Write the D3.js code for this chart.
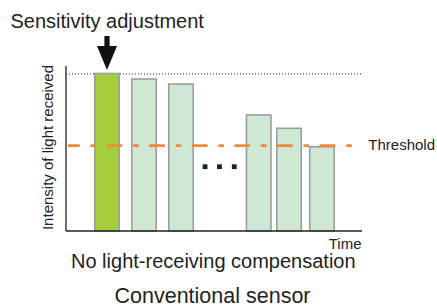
<!DOCTYPE html>
<html><head><meta charset="utf-8">
<script src="https://cdn.jsdelivr.net/npm/d3@7"></script>
<style>body{margin:0;background:#fff}svg{display:block}text{font-family:"Liberation Sans",Arial,sans-serif;fill:#222}</style>
</head><body><div id="chart"></div>
<script>
const timeSlots = [1, 2, 3, 5.1, 5.92, 6.81];
const intensities = [100, 96.5, 93.3, 73.7, 65.2, 53.5];
const barKinds = ["adjusted", "normal", "normal", "normal", "normal", "normal"];
const ellipsisSlots = [3.65, 4.04, 4.44];
const thresholdValue = 54.2;
const maxValue = 100;
const titleText = "Sensitivity adjustment";
const yLabelText = "Intensity of light received";
const xLabelText = "Time";
const thresholdLabel = "Threshold";
const captionText = "No light-receiving compensation";
const subtitleText = "Conventional sensor";

const W = 437, H = 307;
const svg = d3.select("#chart").append("svg").attr("width", W).attr("height", H);

const x = d3.scaleLinear().domain([0, 1]).range([70, 107]);
const y = d3.scaleLinear().domain([0, maxValue]).range([231, 73.5]);
const barW = 24.5;
const xEnd = 362, xStart = 66;

// dotted max line
svg.append("line").attr("x1", xStart).attr("x2", xEnd)
  .attr("y1", y(maxValue) + 0.5).attr("y2", y(maxValue) + 0.5)
  .attr("stroke", "#222").attr("stroke-width", 1).attr("stroke-dasharray", "1,2");

// bars
svg.selectAll("rect.bar").data(timeSlots).enter().append("rect")
  .attr("class", "bar")
  .attr("x", (d) => x(d) - barW / 2)
  .attr("y", (d, i) => y(intensities[i]))
  .attr("width", barW)
  .attr("height", (d, i) => y(0) - y(intensities[i]))
  .attr("fill", (d, i) => barKinds[i] === "adjusted" ? "#a5cd3d" : "#cfe7d5")
  .attr("stroke", "#9a9e9c").attr("stroke-width", 1.6);

// axes
svg.append("line").attr("x1", xStart).attr("x2", xStart).attr("y1", 66).attr("y2", y(0))
  .attr("stroke", "#222").attr("stroke-width", 1.3);
svg.append("line").attr("x1", xStart).attr("x2", xEnd).attr("y1", y(0)).attr("y2", y(0))
  .attr("stroke", "#222").attr("stroke-width", 1.3);

// threshold line
svg.append("line").attr("x1", 68).attr("x2", 356)
  .attr("y1", y(thresholdValue)).attr("y2", y(thresholdValue))
  .attr("stroke", "#f4873a").attr("stroke-width", 2.6)
  .attr("stroke-dasharray", "15.7,10.8,5.6,10.5")
  .attr("stroke-dashoffset", 4);

// ellipsis
svg.selectAll("rect.dot").data(ellipsisSlots).enter().append("rect")
  .attr("x", (d) => x(d) - 2.4).attr("y", 164.3).attr("width", 4.8).attr("height", 4.8)
  .attr("fill", "#222");

// arrow
const ax = x(timeSlots[0]);
svg.append("path")
  .attr("d", `M${ax - 2.6},36 L${ax + 2.6},36 L${ax + 2.6},46 L${ax + 10},46 L${ax},70 L${ax - 10},46 L${ax - 2.6},46 Z`)
  .attr("fill", "#111");

// texts
svg.append("text").attr("x", 10.5).attr("y", 27.5).attr("font-size", 20).text(titleText);
svg.append("text").attr("transform", `translate(53,${(65 + 230) / 2}) rotate(-90)`)
  .attr("text-anchor", "middle").attr("font-size", 15).text(yLabelText);
svg.append("text").attr("x", 368.3).attr("y", 149.5).attr("font-size", 15).text(thresholdLabel);
svg.append("text").attr("x", 361.5).attr("y", 249).attr("text-anchor", "end").attr("font-size", 15).text(xLabelText);
svg.append("text").attr("x", 213.3).attr("y", 268.3).attr("text-anchor", "middle").attr("font-size", 20).text(captionText);
svg.append("text").attr("x", 212.5).attr("y", 303.3).attr("text-anchor", "middle").attr("font-size", 21.5).text(subtitleText);
</script></body></html>
